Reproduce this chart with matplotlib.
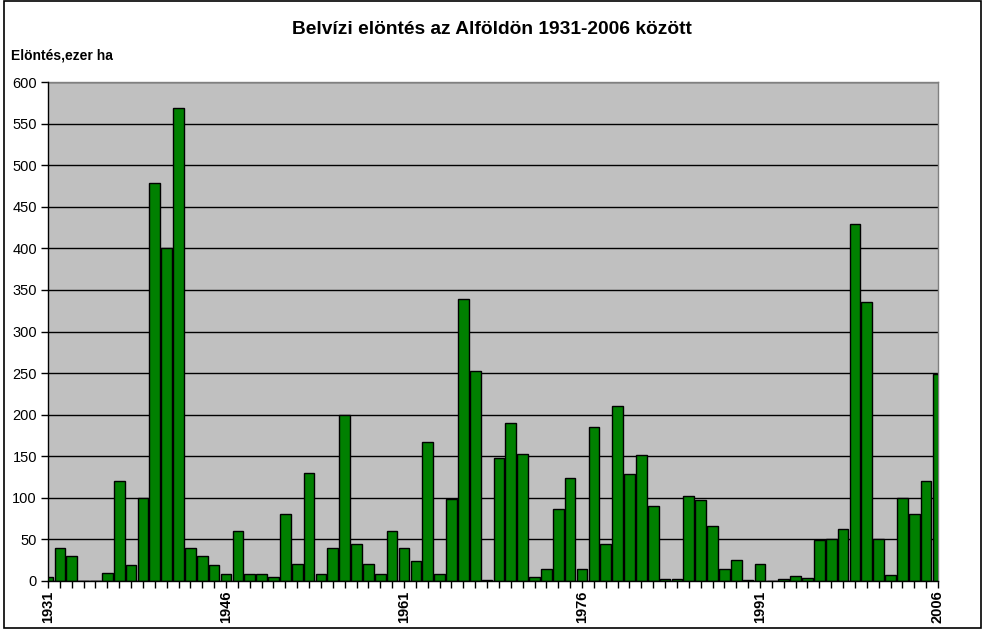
import matplotlib
matplotlib.use("Agg")
import matplotlib.pyplot as plt
from matplotlib.patches import Rectangle

years = list(range(1931, 2007))
values = [5, 40, 30, 0, 0, 10, 120, 19, 100, 478,
          400, 569, 40, 30, 19, 9, 60, 9, 9, 5,
          80, 21, 130, 9, 40, 200, 44, 21, 8, 60,
          40, 24, 167, 9, 98, 339, 253, 1, 148, 190,
          153, 5, 14, 86, 124, 14, 185, 45, 210, 129,
          151, 90, 3, 2, 102, 97, 66, 14, 25, 1,
          20, 0, 2, 6, 4, 49, 50, 62, 429, 335,
          50, 7, 100, 80, 120, 249]
label_years = [1931, 1946, 1961, 1976, 1991, 2006]
yticks = list(range(0, 601, 50))

title = "Belvízi elöntés az Alföldön 1931-2006 között"
ylabel = "Elöntés,ezer ha"

plt.rcParams['font.family'] = ['Liberation Sans', 'DejaVu Sans']

W, H = 983, 637
fig = plt.figure(figsize=(W / 100, H / 100), dpi=100)
fig.patch.set_facecolor('white')

x0, x1, ytop, ybot = 48, 938, 82, 581
ax = fig.add_axes([x0 / W, 1 - ybot / H, (x1 - x0) / W, (ybot - ytop) / H])
ax.set_facecolor('#C0C0C0')

ax.bar(years, values, width=0.9, color='#008000', edgecolor='black',
       linewidth=1.0, zorder=3)

ax.set_xlim(1931, 2006)
ax.set_ylim(0, 600)
ax.set_yticks(yticks)
ax.set_yticklabels([str(v) for v in yticks], fontsize=10.5)
ax.yaxis.grid(True, color='black', linewidth=1.0, zorder=1)
ax.set_axisbelow(True)

ax.set_xticks(years)
ax.set_xticklabels([str(y) if y in label_years else '' for y in years],
                   rotation=90, fontsize=10.5, fontweight='bold')
ax.tick_params(axis='x', direction='out', length=5, width=1, color='black', pad=2)
ax.tick_params(axis='y', direction='out', length=5, width=1, color='black', pad=3)

for s in ['top', 'right']:
    ax.spines[s].set_color('#808080')
    ax.spines[s].set_linewidth(1)
for s in ['left', 'bottom']:
    ax.spines[s].set_color('black')
    ax.spines[s].set_linewidth(1)
    ax.spines[s].set_zorder(4)

fig.text(492 / W, 1 - 30 / H, title, ha='center', va='center',
         fontsize=13.8, fontweight='bold')
fig.text(11 / W, 1 - 55 / H, ylabel, ha='left', va='center',
         fontsize=10, fontweight='bold')

fig.patches.append(Rectangle((4 / W, 1 - 628 / H), 977 / W, 627 / H,
                             transform=fig.transFigure, fill=False,
                             edgecolor='black', linewidth=1.2))

fig.savefig('out.png', dpi=100)
